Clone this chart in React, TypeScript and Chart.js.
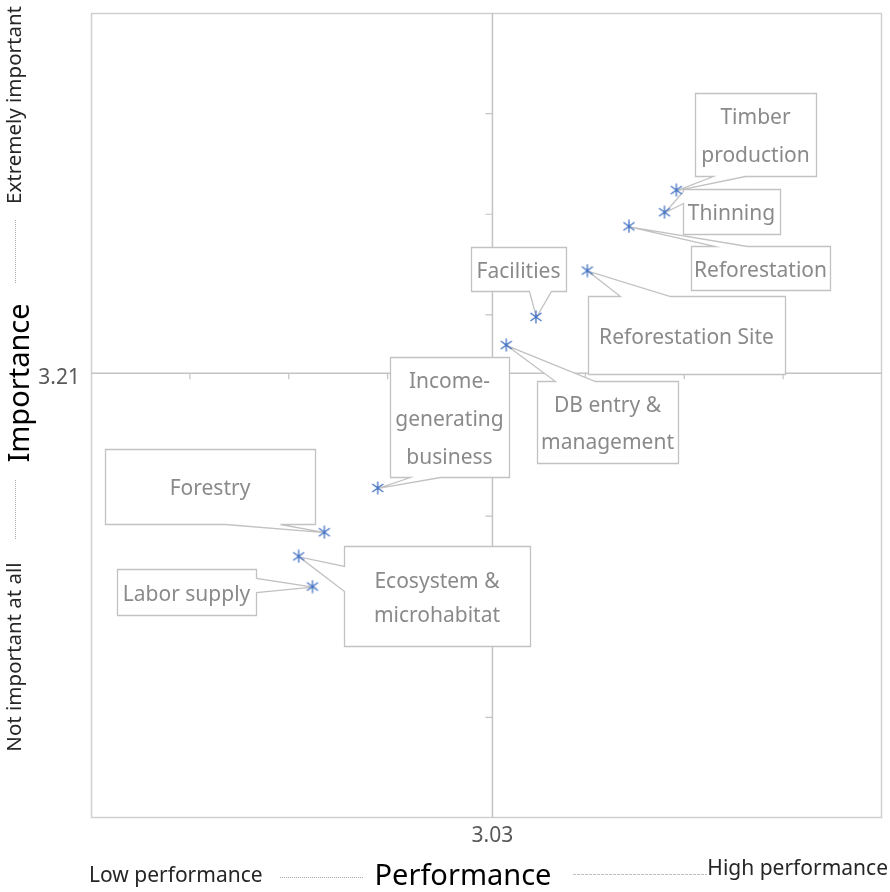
import React, { useEffect, useRef } from 'react';
import { Chart, registerables } from 'chart.js';

Chart.register(...registerables);

// ---------- data ----------
const categories = [
  'Timber production',
  'Thinning',
  'Reforestation',
  'Reforestation Site',
  'Facilities',
  'DB entry & management',
  'Income-generating business',
  'Forestry',
  'Ecosystem & microhabitat',
  'Labor supply',
];
const performance = [3.96, 3.9, 3.72, 3.51, 3.25, 3.1, 2.45, 2.18, 2.05, 2.12];
const importance = [4.12, 4.01, 3.94, 3.72, 3.49, 3.35, 2.64, 2.42, 2.3, 2.15];
const meanPerformance = 3.03;
const meanImportance = 3.21;
const axisMin = 1;
const axisMax = 5;
const tickStep = 0.5;
const labelLines = [
  ['Timber', 'production'],
  ['Thinning'],
  ['Reforestation'],
  ['Reforestation Site'],
  ['Facilities'],
  ['DB entry &', 'management'],
  ['Income-', 'generating', 'business'],
  ['Forestry'],
  ['Ecosystem &', 'microhabitat'],
  ['Labor supply'],
];
const xTitle = 'Performance';
const yTitle = 'Importance';
const xLow = 'Low performance';
const xHigh = 'High performance';
const yLow = 'Not important at all';
const yHigh = 'Extremely important';

// ---------- layout (callout boxes, pixels) ----------
type Callout = { x0: number; y0: number; x1: number; y1: number; side: string; b1: number; b2: number; lh: number };
const callouts: Callout[] = [
  { x0: 695, y0: 93, x1: 816, y1: 176, side: 'bottom', b1: 713, b2: 745, lh: 38 },
  { x0: 683, y0: 189, x1: 780, y1: 234, side: 'left', b1: 191, b2: 203, lh: 38 },
  { x0: 691, y0: 246, x1: 830, y1: 290, side: 'top', b1: 715, b2: 747, lh: 38 },
  { x0: 588, y0: 296, x1: 785, y1: 374, side: 'top', b1: 620, b2: 670, lh: 38 },
  { x0: 471, y0: 247, x1: 566, y1: 291, side: 'bottom', b1: 529, b2: 551, lh: 38 },
  { x0: 537, y0: 381, x1: 678, y1: 463, side: 'top', b1: 555, b2: 595, lh: 37 },
  { x0: 390, y0: 357, x1: 509, y1: 477, side: 'bottom', b1: 410, b2: 440, lh: 38 },
  { x0: 105, y0: 449, x1: 315, y1: 524, side: 'bottom', b1: 225, b2: 280, lh: 38 },
  { x0: 344, y0: 546, x1: 530, y1: 646, side: 'left', b1: 566, b2: 591, lh: 34 },
  { x0: 117, y0: 569, x1: 256, y1: 615, side: 'right', b1: 578, b2: 592, lh: 38 },
];

const FONT = '"Noto Sans", "Open Sans", sans-serif';
const MARKER_COLOR = '#4472C4';

function makeMarker(): HTMLCanvasElement {
  const c = document.createElement('canvas');
  c.width = 14;
  c.height = 14;
  const g = c.getContext('2d')!;
  g.strokeStyle = MARKER_COLOR;
  g.lineWidth = 1.3;
  g.beginPath();
  g.moveTo(7, 0.5);
  g.lineTo(7, 13.5);
  g.moveTo(1.5, 3);
  g.lineTo(12.5, 11);
  g.moveTo(12.5, 3);
  g.lineTo(1.5, 11);
  g.stroke();
  return c;
}

const decorPlugin = {
  id: 'ipaDecor',
  beforeDatasetsDraw(chart: any) {
    const { ctx, chartArea: a, scales } = chart;
    const xs = scales.x;
    const ys = scales.y;
    ctx.save();
    // outer frame
    ctx.strokeStyle = '#d0d0d0';
    ctx.lineWidth = 1.5;
    ctx.strokeRect(a.left + 0.5, a.top + 0.5, a.right - a.left - 1, a.bottom - a.top - 1);

    const cx = xs.getPixelForValue(meanPerformance);
    const cy = ys.getPixelForValue(meanImportance);
    ctx.strokeStyle = '#c4c4c4';
    ctx.lineWidth = 1.5;
    ctx.beginPath();
    ctx.moveTo(cx, a.top);
    ctx.lineTo(cx, a.bottom);
    ctx.moveTo(a.left, cy);
    ctx.lineTo(a.right, cy);
    ctx.stroke();

    // tick marks
    ctx.lineWidth = 1.2;
    ctx.beginPath();
    for (let v = axisMin + tickStep; v < axisMax - 1e-9; v += tickStep) {
      const py = ys.getPixelForValue(v);
      ctx.moveTo(cx - 7, py);
      ctx.lineTo(cx, py);
      const px = xs.getPixelForValue(v);
      ctx.moveTo(px, cy);
      ctx.lineTo(px, cy + 6);
    }
    ctx.stroke();

    // callouts
    const meta = chart.getDatasetMeta(0);
    callouts.forEach((b, i) => {
      const pt = meta.data[i];
      if (!pt) return;
      const tx = pt.x;
      const ty = pt.y;
      const poly: number[][] = [];
      poly.push([b.x0, b.y0]);
      if (b.side === 'top') poly.push([b.b1, b.y0], [tx, ty], [b.b2, b.y0]);
      poly.push([b.x1, b.y0]);
      if (b.side === 'right') poly.push([b.x1, b.b1], [tx, ty], [b.x1, b.b2]);
      poly.push([b.x1, b.y1]);
      if (b.side === 'bottom') poly.push([b.b2, b.y1], [tx, ty], [b.b1, b.y1]);
      poly.push([b.x0, b.y1]);
      if (b.side === 'left') poly.push([b.x0, b.b2], [tx, ty], [b.x0, b.b1]);
      ctx.beginPath();
      poly.forEach((p, k) => (k ? ctx.lineTo(p[0] + 0.5, p[1] + 0.5) : ctx.moveTo(p[0] + 0.5, p[1] + 0.5)));
      ctx.closePath();
      ctx.fillStyle = '#ffffff';
      ctx.fill();
      ctx.strokeStyle = '#c2c2c2';
      ctx.lineWidth = 1.3;
      ctx.stroke();

      const lines = labelLines[i];
      ctx.fillStyle = '#8a8a8a';
      ctx.font = `21px ${FONT}`;
      ctx.textAlign = 'center';
      ctx.textBaseline = 'middle';
      const mx = (b.x0 + b.x1) / 2;
      const my = (b.y0 + b.y1) / 2 + 3;
      lines.forEach((t, k) => {
        ctx.fillText(t, mx, my + (k - (lines.length - 1) / 2) * b.lh);
      });
    });
    ctx.restore();
  },
  afterDraw(chart: any) {
    const { ctx, scales } = chart;
    const xs = scales.x;
    const ys = scales.y;
    const cx = xs.getPixelForValue(meanPerformance);
    const cy = ys.getPixelForValue(meanImportance);
    ctx.save();
    // mean value labels
    ctx.fillStyle = '#595959';
    ctx.font = `21px ${FONT}`;
    ctx.textAlign = 'right';
    ctx.textBaseline = 'middle';
    ctx.fillText(meanImportance.toFixed(2), 80, cy + 5);
    ctx.textAlign = 'center';
    ctx.fillText(meanPerformance.toFixed(2), cx, 836);

    // bottom axis titles
    ctx.fillStyle = '#262626';
    ctx.textBaseline = 'middle';
    ctx.font = `21px ${FONT}`;
    ctx.textAlign = 'left';
    ctx.fillText(xLow, 89, 876);
    ctx.textAlign = 'right';
    ctx.fillText(xHigh, 888, 869);
    ctx.font = `29px ${FONT}`;
    ctx.textAlign = 'center';
    ctx.fillStyle = '#000000';
    ctx.fillText(xTitle, 463, 877);

    ctx.strokeStyle = '#a8a8a8';
    ctx.lineWidth = 1;
    ctx.setLineDash([1, 1]);
    ctx.beginPath();
    ctx.moveTo(280, 877.5);
    ctx.lineTo(363, 877.5);
    ctx.moveTo(15.5, 220);
    ctx.lineTo(15.5, 283);
    ctx.moveTo(15.5, 480);
    ctx.lineTo(15.5, 540);
    ctx.stroke();
    ctx.setLineDash([3, 1]);
    ctx.strokeStyle = '#c0c0c0';
    ctx.beginPath();
    ctx.moveTo(573, 874.5);
    ctx.lineTo(707, 874.5);
    ctx.stroke();
    ctx.setLineDash([]);

    // left axis titles (rotated)
    const rot = (text: string, x: number, y: number, font: string, color: string) => {
      ctx.save();
      ctx.translate(x, y);
      ctx.rotate(-Math.PI / 2);
      ctx.font = font;
      ctx.fillStyle = color;
      ctx.textAlign = 'center';
      ctx.textBaseline = 'middle';
      ctx.fillText(text, 0, 0);
      ctx.restore();
    };
    rot(yHigh, 15, 105, `20.5px ${FONT}`, '#262626');
    rot(yTitle, 21, 383, `29px ${FONT}`, '#000000');
    rot(yLow, 15, 657, `20.5px ${FONT}`, '#262626');
    ctx.restore();
  },
};

export default function App() {
  const ref = useRef<HTMLCanvasElement | null>(null);
  useEffect(() => {
    if (!ref.current) return;
    const marker = makeMarker();
    const chart = new Chart(ref.current, {
      type: 'scatter',
      data: {
        labels: categories,
        datasets: [
          {
            label: 'IPA',
            data: performance.map((p, i) => ({ x: p, y: importance[i] })),
            pointStyle: marker as any,
            pointRadius: 7,
            backgroundColor: MARKER_COLOR,
            borderColor: MARKER_COLOR,
          },
        ],
      },
      options: {
        responsive: false,
        animation: false,
        devicePixelRatio: 1,
        layout: { padding: { left: 91, top: 13, right: 4, bottom: 74 } },
        plugins: { legend: { display: false }, tooltip: { enabled: false } },
        scales: {
          x: { type: 'linear', min: axisMin, max: axisMax, display: false },
          y: { type: 'linear', min: axisMin, max: axisMax, display: false },
        },
      },
      plugins: [decorPlugin],
    });
    return () => chart.destroy();
  }, []);
  return (
    <div style={{ position: 'fixed', left: 0, top: 0, width: 890, height: 892, background: '#fff' }}>
      <canvas ref={ref} width={890} height={892} style={{ display: 'block', width: 890, height: 892 }} />
    </div>
  );
}
